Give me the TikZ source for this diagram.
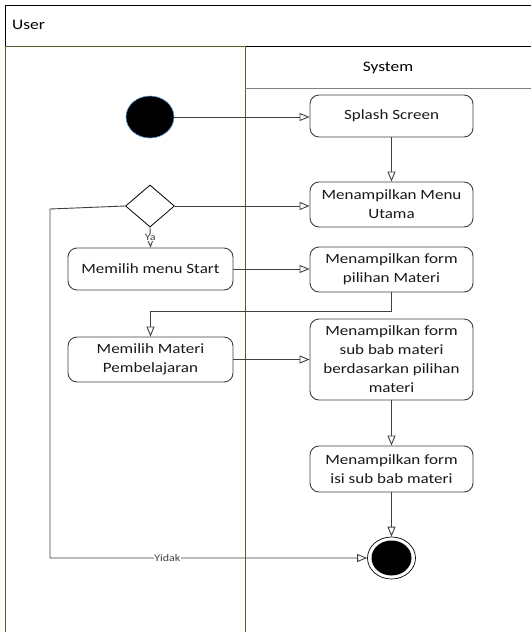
\documentclass[tikz,border=0pt]{standalone}
\usepackage{fontspec}
\setmainfont[FakeStretch=1.2]{Carlito}
\usetikzlibrary{arrows.meta,shapes.geometric,calc}
\definecolor{lanegreen}{HTML}{4F6228}
\definecolor{linegray}{HTML}{404040}
\definecolor{startblue}{HTML}{5B9BD5}
\tikzset{
  act/.style={draw=linegray, line width=0.9pt, rounded corners=9pt, fill=white,
    minimum width=163pt, align=center, inner sep=2pt,
    font=\fontsize{14.2}{19}\selectfont, text=black!90},
  uact/.style={act, minimum width=165pt},
  arr/.style={draw=linegray, line width=0.9pt,
    -{Triangle[open, length=10pt, width=8pt]}},
  conn/.style={draw=linegray, line width=0.9pt},
  lbl/.style={fill=white, inner sep=0.5pt, font=\fontsize{10}{11}\selectfont, text=linegray},
}
\begin{document}
\begin{tikzpicture}[x=1pt,y=-1pt]
\useasboundingbox (0,0) rectangle (531,632);
% frame
\draw[black, line width=1pt] (5,46) -- (5,5) -- (531,5);
\draw[black, line width=1pt] (245,46) -- (531,46);
\draw[lanegreen, line width=0.9pt] (5,632) -- (5,46) -- (245,46);
\draw[lanegreen, line width=0.9pt] (245,46) -- (245,632);
\draw[gray, line width=0.9pt] (245,88) -- (531,88);
\node[anchor=west, font=\fontsize{14.5}{16}\selectfont, inner sep=0pt] (user) at (12,25) {User};
\node[font=\fontsize{14.5}{16}\selectfont, inner sep=0pt] (system) at (388,68) {System};
% nodes
\node[ellipse, fill=black, draw=startblue, line width=0.6pt, minimum width=48pt, minimum height=42pt, inner sep=0pt] (start) at (150,117) {};
\node[act, minimum height=42pt] (splash) at (391.5,116) {Splash Screen};
\node[act, minimum height=45pt] (menu) at (391.5,204.5) {Menampilkan Menu\\Utama};
\node[act, minimum height=45pt] (pilihan) at (391.5,269.5) {Menampilkan form\\pilihan Materi};
\node[act, minimum height=81pt] (subbab) at (391.5,359.5) {Menampilkan form\\sub bab materi\\berdasarkan pilihan\\materi};
\node[act, minimum height=46pt] (isi) at (391.5,469) {Menampilkan form\\isi sub bab materi};
\node[ellipse, draw=black, line width=0.7pt, fill=white, minimum width=48pt, minimum height=42pt, inner sep=0pt] (end) at (391.5,558) {};
\node[ellipse, fill=black, minimum width=40pt, minimum height=35pt, inner sep=0pt] (endin) at (391.5,558) {};
\node[diamond, draw=black, line width=0.8pt, fill=white, minimum width=49pt, minimum height=42pt, inner sep=0pt] (dec) at (150,206) {};
\node[uact, minimum height=42pt] (mstart) at (150.5,269) {Memilih menu Start};
\node[uact, minimum height=45pt] (mmateri) at (150.5,359.5) {Memilih Materi\\Pembelajaran};
% connectors
\draw[arr] (start) -- (start -| splash.west);
\draw[arr] (splash) -- (menu);
\draw[arr] (dec.east) -- (dec.east -| menu.west);
\draw[arr] (dec.south) -- (mstart.north) node[lbl, pos=0.5] (ya) {Ya};
\draw[arr] (mstart.east) -- (mstart.east -| pilihan.west);
\coordinate (p1) at ($(pilihan.south)+(0,19)$);
\draw[arr] (pilihan.south) -- (p1) -| (mmateri.north);
\draw[arr] (mmateri.east) -- (mmateri.east -| subbab.west);
\draw[arr] (subbab) -- (isi);
\draw[arr] (isi) -- (end);
\coordinate (t1) at (50,209);
\coordinate (t2) at (50,558);
\draw[arr] (dec.west) -- (t1) -- (t2) -- (end.west) node[lbl, pos=0.37] (yidak) {Yidak};
\end{tikzpicture}
\end{document}
